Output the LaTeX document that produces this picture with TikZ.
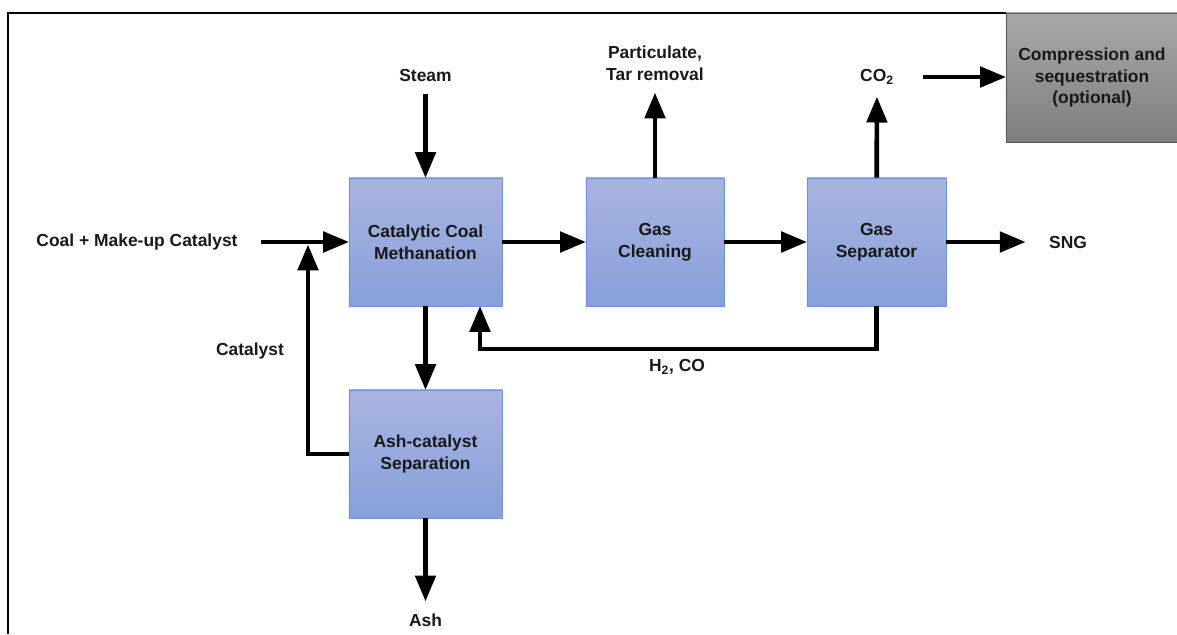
\documentclass[tikz,border=0pt]{standalone}
\usepackage{fontspec}
\setmainfont{Liberation Sans}
\usetikzlibrary{arrows}
\definecolor{boxtop}{RGB}{168,180,224}
\definecolor{boxbot}{RGB}{136,159,218}
\definecolor{boxline}{RGB}{110,145,222}
\definecolor{greytop}{RGB}{168,168,168}
\definecolor{greybot}{RGB}{126,126,126}
\definecolor{greyline}{RGB}{90,90,90}
\definecolor{txt}{RGB}{25,25,25}
\begin{document}
\begin{tikzpicture}[line join=miter,>=triangle 45,x=0.025cm,y=0.025cm,
  flow/.style={->,line width=3.3pt},
  unit/.style={draw=boxline,line width=0.6pt,top color=boxtop,bottom color=boxbot,
    minimum height=3.2cm,align=center,text=txt,
    font=\bfseries\fontsize{12.4}{15.6}\selectfont},
  extra/.style={unit,draw=greyline,top color=greytop,bottom color=greybot,
    minimum width=4.3cm,minimum height=3.225cm},
  lbl/.style={text=txt,align=center,inner sep=2pt,outer xsep=15pt,outer ysep=7pt,
    font=\bfseries\fontsize{12.4}{15.6}\selectfont}]
\useasboundingbox (0,0) rectangle (1177,634);
% khung ngoai
\draw[line width=2.1pt] (8,0) -- (8,621) -- (1177,621);
% cac khoi
\node[unit,minimum width=3.825cm] (ccm) at (425.5,392) {Catalytic Coal\\Methanation};
\node[unit,minimum width=3.45cm] (gc) at (655,392) {Gas\\Cleaning};
\node[unit,minimum width=3.475cm] (gs) at (876.5,392) {Gas\\Separator};
\node[unit,minimum width=3.825cm] (asc) at (425.5,180) {Ash-catalyst\\Separation};
\node[extra] (cmp) at (1092,556.5) {Compression and\\sequestration\\(optional)};
% nhan
\node[lbl] (steam) at (425.5,559) {Steam};
\node[lbl] (part) at (655,571) {Particulate,\\Tar removal};
\node[lbl] (co2) at (877,557) {CO\textsubscript{2}};
\node[lbl] (coal) at (137,392) {Coal + Make-up Catalyst};
\node[lbl] (sng) at (1068,392) {SNG};
\node[lbl] (ash) at (425.5,14) {Ash};
\node[lbl,outer sep=0pt] (catlbl) at (250,283) {Catalyst};
\node[lbl,outer sep=0pt] (h2co) at (677,267) {H\textsubscript{2}, CO};
\coordinate (catin) at (308,389);
\coordinate (recyc) at (480,285);
% cac mui ten
\draw[flow] (steam) -- (ccm);
\draw[flow] (coal) -- (ccm);
\draw[flow] (ccm) -- (gc);
\draw[flow] (gc) -- (gs);
\draw[flow] (gs) -- (sng);
\draw[flow] (gc) -- (part);
\draw[flow] (gs) -- (co2);
\draw[flow,shorten <=4pt] (co2.east) -- (co2.east -| cmp.west);
\draw[flow] (ccm) -- (asc);
\draw[flow] (asc) -- (ash);
\draw[flow] (asc.west) -| (catin);
\draw[flow] (gs.south) |- (recyc) -- (recyc |- ccm.south);
\end{tikzpicture}
\end{document}
